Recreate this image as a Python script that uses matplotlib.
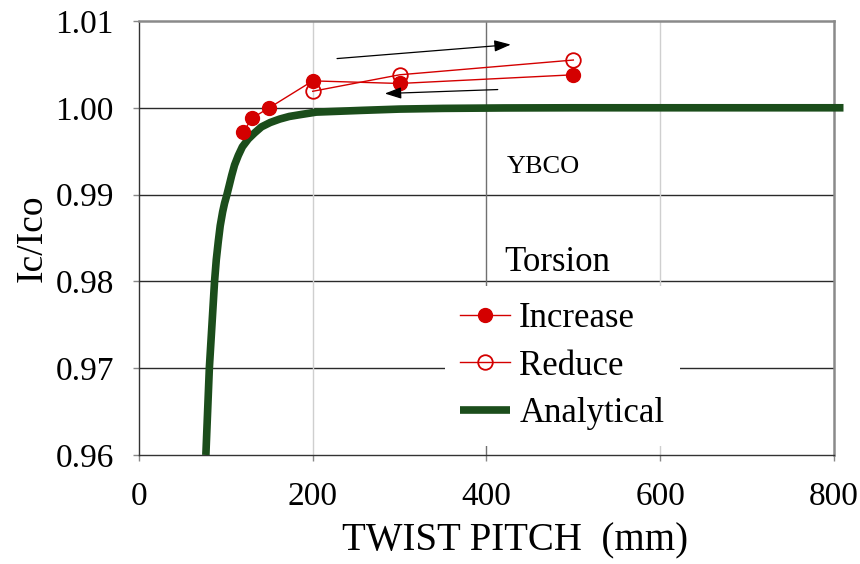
import matplotlib
matplotlib.use("Agg")
import matplotlib.pyplot as plt

plt.rcParams['font.family'] = ['Liberation Serif', 'DejaVu Serif']

# Measured critical current ratio vs twist pitch
inc_pitch = [120, 130, 150, 200, 300, 500]
inc_ratio = [0.9972, 0.9988, 1.0000, 1.0031, 1.0028, 1.0038]

red_pitch = [500, 300, 200]
red_ratio = [1.0055, 1.0038, 1.0019]

# Analytical prediction
ana_pitch = [77, 79, 81, 84, 87, 89, 91.3, 93.5, 96.3, 98.5, 101, 104, 106.7,
             110, 114.3, 119, 125.8, 133, 141, 151, 162, 173, 185, 204, 230,
             256, 300, 350, 420, 500, 650, 811]
ana_ratio = [0.9600, 0.9650, 0.9700, 0.9750, 0.9800, 0.9825, 0.9846, 0.9864,
             0.9880, 0.9890, 0.9899, 0.9911, 0.9922, 0.9934, 0.9945, 0.9955,
             0.9964, 0.9971, 0.9978, 0.9983, 0.9987, 0.9990, 0.9992, 0.9995,
             0.9996, 0.9997, 0.99985, 0.99993, 0.99998, 1.0000, 1.0000, 1.0000]

x_ticks = [0, 200, 400, 600, 800]
y_ticks = [0.96, 0.97, 0.98, 0.99, 1.00, 1.01]

fig = plt.figure(figsize=(8.6, 5.64), dpi=100)
ax = fig.add_axes([0.1616, 0.1933, 0.8081, 0.7695])

ax.set_xlim(0, 800)
ax.set_ylim(0.96, 1.01)

# Grid
for yv in y_ticks[1:-1]:
    ax.axhline(yv, color='#2a2a2a', lw=1.0, zorder=1)
for xv, c in [(200, '#cfcfcf'), (400, '#707070'), (600, '#cfcfcf')]:
    ax.axvline(xv, color=c, lw=1.0, zorder=1)

ax.plot(ana_pitch, ana_ratio, color='#1b4d1b', lw=5.5, solid_capstyle='butt',
        solid_joinstyle='round', clip_on=False, zorder=3, label='Analytical')
ax.plot(inc_pitch, inc_ratio, color='#d40000', lw=1.0, marker='o', ms=10,
        mfc='#d40000', mec='#d40000', zorder=4, label='Increase')
ax.plot(red_pitch, red_ratio, color='#d40000', lw=1.0, marker='o', ms=10.5,
        mfc='none', mec='#d40000', mew=1.3, zorder=4, label='Reduce')

# Direction arrows
arrow = dict(arrowstyle='-|>,head_length=1.0,head_width=0.35', color='black',
             lw=0.9, shrinkA=0, shrinkB=0)
ax.annotate('', xy=(428, 1.00728), xytext=(228, 1.00567), arrowprops=arrow, zorder=5)
ax.annotate('', xy=(283, 1.00164), xytext=(413, 1.0021), arrowprops=arrow, zorder=5)

ax.text(465, 0.99314, 'YBCO', fontsize=19, ha='center', va='center', zorder=5)
ax.text(482, 0.98222, 'Torsion', fontsize=25, ha='center', va='center', zorder=5)

handles, labels = ax.get_legend_handles_labels()
order = [1, 2, 0]
leg = ax.legend([handles[i] for i in order], [labels[i] for i in order],
                loc='center', bbox_to_anchor=(0.609, 0.205), bbox_transform=ax.transAxes,
                fontsize=25, frameon=True, fancybox=False, handlelength=1.45,
                handletextpad=0.25, labelspacing=0.42, borderpad=0.45,
                borderaxespad=0)
leg.get_frame().set_facecolor('white')
leg.get_frame().set_edgecolor('none')
leg.get_frame().set_alpha(1.0)
leg.set_zorder(6)

ax.set_xticks(x_ticks)
ax.set_xticklabels([str(v) for v in x_ticks])
ax.set_yticks(y_ticks)
ax.set_yticklabels([f'{v:.2f}' for v in y_ticks])
ax.tick_params(axis='both', labelsize=24, direction='out', length=4,
               color='#888888', width=1.0)
ax.tick_params(axis='x', pad=15)
ax.tick_params(axis='y', pad=14)

ax.set_xlabel('TWIST PITCH  (mm)', fontsize=28, labelpad=10)
ax.xaxis.set_label_coords(0.541, -0.155)
ax.set_ylabel('Ic/Ico', fontsize=27, labelpad=4)

for s in ['left', 'bottom']:
    ax.spines[s].set_color('#333333')
    ax.spines[s].set_linewidth(1.0)
for s in ['top', 'right']:
    ax.spines[s].set_color('#8a8a8a')
    ax.spines[s].set_linewidth(1.8)

fig.savefig('out.png', dpi=100)
